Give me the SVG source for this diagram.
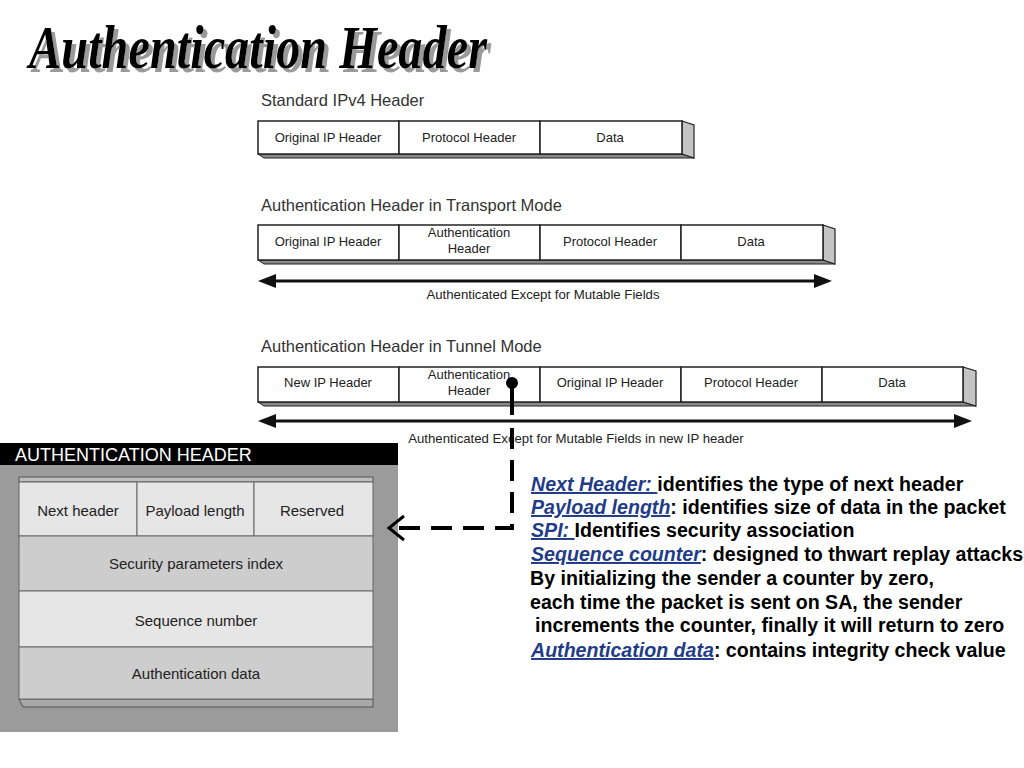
<svg xmlns="http://www.w3.org/2000/svg" width="1024" height="768" viewBox="0 0 1024 768">
<defs>
<filter id="shadow" x="-5%" y="-20%" width="115%" height="150%">
<feFlood flood-color="#9a9a9a" result="c"/>
<feComposite in="c" in2="SourceAlpha" operator="in" result="s"/>
<feOffset in="s" dx="4" dy="4" result="o"/>
<feMerge><feMergeNode in="o"/><feMergeNode in="SourceGraphic"/></feMerge>
</filter>
<style>
.cap{font-family:"Liberation Sans",Arial,sans-serif;font-size:16.5px;fill:#333}
.cell{fill:#fff;stroke:#222;stroke-width:1.5}
.ct{font-family:"Liberation Sans",Arial,sans-serif;font-size:13px;fill:#222;text-anchor:middle}
.side{fill:#c4c4c4;stroke:#222;stroke-width:1.2}
.bot{fill:#8a8a8a;stroke:#222;stroke-width:1}
.arr{stroke:#111;stroke-width:3;fill:none}
.head{fill:#111}
.al{font-family:"Liberation Sans",Arial,sans-serif;font-size:13.2px;fill:#222;text-anchor:middle}
.ah{font-family:"Liberation Sans",Arial,sans-serif;font-size:15px;fill:#222;text-anchor:middle}
.desc{font-family:"Liberation Sans",Arial,sans-serif;font-size:19.6px;font-weight:bold;fill:#000}
.lk{fill:#1f3c88;font-style:italic;text-decoration:underline}
.title{font-family:"Liberation Serif","Times New Roman",serif;font-size:62px;font-weight:bold;font-style:italic}
</style>
</defs>
<rect width="1024" height="768" fill="#fff"/>

<g id="title">
<text class="title" x="29" y="68" fill="#000" filter="url(#shadow)" textLength="458" lengthAdjust="spacingAndGlyphs">Authentication Header</text>
</g>

<g id="ipv4">
<text class="cap" x="261" y="106">Standard IPv4 Header</text>
<polygon class="bot" points="258,154 682,154 694,158 264,158"/>
<polygon class="side" points="682,121 694,125 694,158 682,154"/>
<rect class="cell" x="258" y="121" width="141" height="33"/>
<rect class="cell" x="399" y="121" width="141" height="33"/>
<rect class="cell" x="540" y="121" width="142" height="33"/>
<text class="ct" x="328" y="142">Original IP Header</text>
<text class="ct" x="469" y="142">Protocol Header</text>
<text class="ct" x="610" y="142">Data</text>
</g>

<g id="transport">
<text class="cap" x="261" y="211">Authentication Header in Transport Mode</text>
<polygon class="bot" points="258,260 823,260 835,264 264,264"/>
<polygon class="side" points="823,225 835,229 835,264 823,260"/>
<rect class="cell" x="258" y="225" width="141" height="35"/>
<rect class="cell" x="399" y="225" width="141" height="35"/>
<rect class="cell" x="540" y="225" width="141" height="35"/>
<rect class="cell" x="681" y="225" width="142" height="35"/>
<text class="ct" x="328" y="246">Original IP Header</text>
<text class="ct" x="469" y="237">Authentication</text>
<text class="ct" x="469" y="253">Header</text>
<text class="ct" x="610" y="246">Protocol Header</text>
<text class="ct" x="751" y="246">Data</text>
<text class="al" x="543" y="299">Authenticated Except for Mutable Fields</text>
</g>

<g id="tunnel">
<text class="cap" x="261" y="352">Authentication Header in Tunnel Mode</text>
<polygon class="bot" points="258,402 963,402 976,406 264,406"/>
<polygon class="side" points="963,367 976,371 976,406 963,402"/>
<rect class="cell" x="258" y="367" width="141" height="35"/>
<rect class="cell" x="399" y="367" width="141" height="35"/>
<rect class="cell" x="540" y="367" width="141" height="35"/>
<rect class="cell" x="681" y="367" width="141" height="35"/>
<rect class="cell" x="822" y="367" width="141" height="35"/>
<text class="ct" x="328" y="387">New IP Header</text>
<text class="ct" x="469" y="379">Authentication</text>
<text class="ct" x="469" y="395">Header</text>
<text class="ct" x="610" y="387">Original IP Header</text>
<text class="ct" x="751" y="387">Protocol Header</text>
<text class="ct" x="892" y="387">Data</text>
<text class="al" x="576" y="443">Authenticated Except for Mutable Fields in new IP header</text>
</g>

<g id="ah-panel">
<rect x="0" y="443" width="398" height="289" fill="#9b9b9b"/>
<rect x="0" y="443" width="398" height="22" fill="#000"/>
<text x="15" y="461" font-family="'Liberation Sans',Arial,sans-serif" font-size="18" fill="#fff">AUTHENTICATION HEADER</text>
<rect x="19" y="477" width="354" height="5" fill="#bdbdbd" stroke="#555" stroke-width="1"/>
<polygon points="19,699 373,699 373,707 23,707" fill="#a8a8a8" stroke="#555" stroke-width="1"/>
<rect x="19" y="482" width="118" height="54" fill="#e6e6e6" stroke="#666" stroke-width="1"/>
<rect x="137" y="482" width="117" height="54" fill="#e6e6e6" stroke="#666" stroke-width="1"/>
<rect x="254" y="482" width="119" height="54" fill="#e6e6e6" stroke="#666" stroke-width="1"/>
<rect x="19" y="536" width="354" height="55" fill="#cdcdcd" stroke="#666" stroke-width="1"/>
<rect x="19" y="591" width="354" height="56" fill="#e6e6e6" stroke="#666" stroke-width="1"/>
<rect x="19" y="647" width="354" height="52" fill="#cdcdcd" stroke="#666" stroke-width="1"/>
<text class="ah" x="78" y="516">Next header</text>
<text class="ah" x="195" y="516">Payload length</text>
<text class="ah" x="312" y="516">Reserved</text>
<text class="ah" x="196" y="569">Security parameters index</text>
<text class="ah" x="196" y="626">Sequence number</text>
<text class="ah" x="196" y="679">Authentication data</text>
</g>

<g id="connectors">
<line class="arr" x1="272" y1="281" x2="818" y2="281"/>
<polygon class="head" points="258,281 276,274 276,288"/>
<polygon class="head" points="832,281 814,274 814,288"/>
<line class="arr" x1="272" y1="421" x2="958" y2="421"/>
<polygon class="head" points="258,421 276,414 276,428"/>
<polygon class="head" points="972,421 954,414 954,428"/>
<circle cx="512" cy="383" r="6" fill="#000"/>
<line x1="512" y1="383" x2="512" y2="415" stroke="#000" stroke-width="4"/>
<polyline points="512,428 512,528 392,528" fill="none" stroke="#000" stroke-width="4" stroke-dasharray="21,11"/>
<polyline points="404,516 389,528 404,540" fill="none" stroke="#000" stroke-width="3"/>
</g>

<g id="description">
<text class="desc" x="531" y="491"><tspan class="lk">Next Header: </tspan>identifies the type of next header</text>
<text class="desc" x="531" y="514"><tspan class="lk">Payload length</tspan>: identifies size of data in the packet</text>
<text class="desc" x="531" y="537"><tspan class="lk">SPI: </tspan>Identifies security association</text>
<text class="desc" x="531" y="561"><tspan class="lk">Sequence counter</tspan>: designed to thwart replay attacks</text>
<text class="desc" x="530" y="585">By initializing the sender a counter by zero,</text>
<text class="desc" x="530" y="609">each time the packet is sent on SA, the sender</text>
<text class="desc" x="535" y="632">increments the counter, finally it will return to zero</text>
<text class="desc" x="531" y="657"><tspan class="lk">Authentication data</tspan>: contains integrity check value</text>
</g>
</svg>
